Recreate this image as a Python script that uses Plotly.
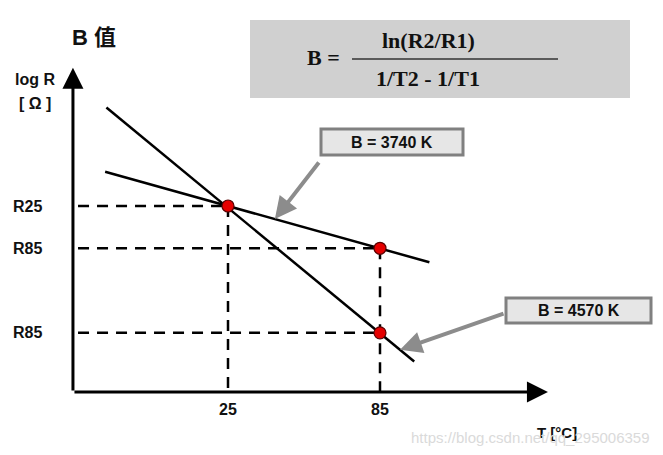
import plotly.graph_objects as go

# ---- data (temperature in °C, log R in arbitrary units) ----
line_a_T = [-23.5, 104.5]          # B = 3740 K
line_a_logR = [5.21, 3.07]
line_b_T = [-23.0, 98.5]           # B = 4570 K
line_b_logR = [6.73, 0.72]
point_T = [25, 85, 85]
point_logR = [4.4, 3.4, 1.4]
ytick_vals = [4.4, 3.4, 1.4]
ytick_text = ["R25", "R85", "R85"]
xtick_vals = [25, 85]
xtick_text = ["25", "85"]
axis_origin = (-36.2, 0.0)
axis_x_end = 151.3
axis_y_end = 7.67
dash_start_T = -34.2
box_labels = ["B = 3740 K", "B = 4570 K"]
arrow_tip_T = [43.5, 92.9]

W, H = 663, 455
kx = 152 / 60.0
ky = 42.27
x_range = [25 - 228 / kx, 25 + (W - 228) / kx]
y_range = [-(H - 392) / ky, 392 / ky]


def px(x):
    return x / W


def py(y):
    return 1 - y / H


fig = go.Figure()

dash = "11px,8px"
# dashed guides
fig.add_trace(go.Scatter(x=[dash_start_T, point_T[0]], y=[ytick_vals[0], ytick_vals[0]], mode="lines",
                         line=dict(color="black", width=2.5, dash=dash), hoverinfo="skip"))
for v in ytick_vals[1:]:
    fig.add_trace(go.Scatter(x=[dash_start_T, point_T[1]], y=[v, v], mode="lines",
                             line=dict(color="black", width=2.5, dash=dash), hoverinfo="skip"))
fig.add_trace(go.Scatter(x=[point_T[0], point_T[0]], y=[point_logR[0], 0], mode="lines",
                         line=dict(color="black", width=2.5, dash=dash), hoverinfo="skip"))
fig.add_trace(go.Scatter(x=[point_T[1], point_T[1]], y=[point_logR[1], 0], mode="lines",
                         line=dict(color="black", width=2.5, dash=dash), hoverinfo="skip"))

# characteristic lines
fig.add_trace(go.Scatter(x=line_a_T, y=line_a_logR, mode="lines",
                         line=dict(color="black", width=2.5), hoverinfo="skip"))
fig.add_trace(go.Scatter(x=line_b_T, y=line_b_logR, mode="lines",
                         line=dict(color="black", width=2.5), hoverinfo="skip"))

# points
fig.add_trace(go.Scatter(x=point_T, y=point_logR, mode="markers",
                         marker=dict(color="#e50000", size=12,
                                     line=dict(color="#5a0000", width=1.2)),
                         hoverinfo="skip"))

ann = []
# axes with arrows
ann.append(dict(x=axis_x_end, y=axis_origin[1], ax=axis_origin[0], ay=axis_origin[1],
                xref="x", yref="y", axref="x", ayref="y", text="", showarrow=True,
                arrowhead=2, arrowsize=1.4, arrowwidth=3, arrowcolor="black"))
ann.append(dict(x=axis_origin[0], y=axis_y_end, ax=axis_origin[0], ay=axis_origin[1],
                xref="x", yref="y", axref="x", ayref="y", text="", showarrow=True,
                arrowhead=2, arrowsize=1.4, arrowwidth=3, arrowcolor="black"))

lab_font = dict(family="Liberation Sans, Arial, sans-serif", size=16, color="#111")
tick_font = dict(family="Liberation Sans, Arial, sans-serif", size=16, color="#111")
# tick labels
for v, t in zip(ytick_vals, ytick_text):
    ann.append(dict(x=axis_origin[0], y=v, xref="x", yref="y", text="<b>%s</b>" % t,
                    showarrow=False, xanchor="right", yanchor="middle", xshift=-29,
                    font=lab_font))
for v, t in zip(xtick_vals, xtick_text):
    ann.append(dict(x=v, y=0, xref="x", yref="y", text="<b>%s</b>" % t,
                    showarrow=False, xanchor="center", yanchor="middle", yshift=-17,
                    font=tick_font))

# axis titles
ann.append(dict(x=px(35), y=py(79), xref="paper", yref="paper", text="<b>log R</b>",
                showarrow=False, xanchor="center", yanchor="middle", font=lab_font))
ann.append(dict(x=px(35), y=py(104), xref="paper", yref="paper", text="<b>[ Ω ]</b>",
                showarrow=False, xanchor="center", yanchor="middle", font=lab_font))
ann.append(dict(x=px(557), y=py(432), xref="paper", yref="paper", text="<b>T [°C]</b>",
                showarrow=False, xanchor="center", yanchor="middle",
                font=dict(family="Liberation Sans, Arial, sans-serif", size=15, color="#111")))

# title
ann.append(dict(x=px(70), y=py(37), xref="paper", yref="paper", text="<b>B 值</b>",
                showarrow=False, xanchor="left", yanchor="middle",
                font=dict(family="Liberation Sans, Noto Sans CJK SC, sans-serif", size=22, color="#111")))

# formula
serif = dict(family="Liberation Serif, Times New Roman, serif", size=22, color="#111")
ann.append(dict(x=px(323), y=py(58), xref="paper", yref="paper", text="<b>B =</b>",
                showarrow=False, xanchor="center", yanchor="middle", font=serif))
ann.append(dict(x=px(428), y=py(40), xref="paper", yref="paper", text="<b>ln(R2/R1)</b>",
                showarrow=False, xanchor="center", yanchor="middle", font=serif))
ann.append(dict(x=px(428), y=py(78), xref="paper", yref="paper", text="<b>1/T2 - 1/T1</b>",
                showarrow=False, xanchor="center", yanchor="middle", font=serif))

# B value boxes
box_font = dict(family="Liberation Sans, Arial, sans-serif", size=16, color="#111")
ann.append(dict(x=px(392), y=py(142), xref="paper", yref="paper",
                text="<b>%s</b>" % box_labels[0], showarrow=False,
                xanchor="center", yanchor="middle", font=box_font))
ann.append(dict(x=px(578.5), y=py(310.5), xref="paper", yref="paper",
                text="<b>%s</b>" % box_labels[1], showarrow=False,
                xanchor="center", yanchor="middle", font=box_font))

# gray pointer arrows (tips on the lines)
slope_a = (line_a_logR[1] - line_a_logR[0]) / (line_a_T[1] - line_a_T[0])
slope_b = (line_b_logR[1] - line_b_logR[0]) / (line_b_T[1] - line_b_T[0])
tip_a = line_a_logR[0] + slope_a * (arrow_tip_T[0] - line_a_T[0])
tip_b = line_b_logR[0] + slope_b * (arrow_tip_T[1] - line_b_T[0])
ann.append(dict(x=arrow_tip_T[0], y=tip_a, xref="x", yref="y",
                ax=320 - (228 + (arrow_tip_T[0] - 25) * kx), ay=161 - (392 - tip_a * ky),
                axref="pixel", ayref="pixel", text="", showarrow=True,
                arrowhead=2, arrowsize=1.1, arrowwidth=4, arrowcolor="#8c8c8c"))
ann.append(dict(x=arrow_tip_T[1], y=tip_b, xref="x", yref="y",
                ax=505 - (228 + (arrow_tip_T[1] - 25) * kx), ay=313 - (392 - tip_b * ky),
                axref="pixel", ayref="pixel", text="", showarrow=True,
                arrowhead=2, arrowsize=1.1, arrowwidth=4, arrowcolor="#8c8c8c"))

# watermark
ann.append(dict(x=px(652), y=py(437), xref="paper", yref="paper", xanchor="right", yanchor="middle",
                text="https://blog.csdn.net/qq_295006359", showarrow=False,
                font=dict(family="Liberation Sans, Arial, sans-serif", size=15, color="#dadada")))

shapes = [
    dict(type="rect", xref="paper", yref="paper", x0=px(250), x1=px(630), y0=py(98), y1=py(20),
         fillcolor="#d0d0d0", line=dict(width=0), layer="below"),
    dict(type="line", xref="paper", yref="paper", x0=px(352), x1=px(558), y0=py(59), y1=py(59),
         line=dict(color="#333", width=1.5)),
    dict(type="rect", xref="paper", yref="paper", x0=px(321), x1=px(463), y0=py(155), y1=py(129),
         fillcolor="#e6e6e6", line=dict(color="#808080", width=3)),
    dict(type="rect", xref="paper", yref="paper", x0=px(506), x1=px(651), y0=py(323), y1=py(298),
         fillcolor="#e6e6e6", line=dict(color="#808080", width=3)),
]

fig.update_layout(
    width=W, height=H,
    margin=dict(l=0, r=0, t=0, b=0),
    paper_bgcolor="white", plot_bgcolor="white",
    showlegend=False,
    xaxis=dict(range=x_range, visible=False, fixedrange=True),
    yaxis=dict(range=y_range, visible=False, fixedrange=True),
    annotations=ann, shapes=shapes,
)

fig.write_html("out.html", config={"displayModeBar": False},
               post_script="document.body.style.margin='0';")
